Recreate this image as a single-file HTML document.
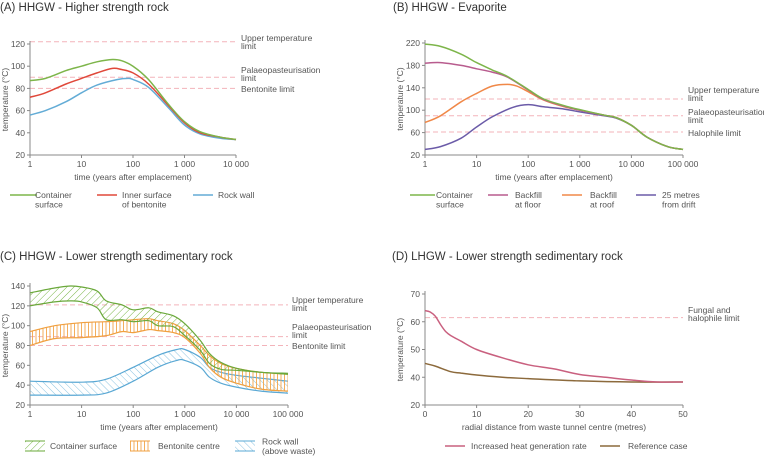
<!DOCTYPE html>
<html><head><meta charset="utf-8"><style>
html,body{margin:0;padding:0;background:#fff;}
svg{display:block;font-family:"Liberation Sans",sans-serif;}
</style></head><body>
<svg id="c" width="764" height="457" viewBox="0 0 764 457">
<defs>
<pattern id="hg" width="5" height="5" patternUnits="userSpaceOnUse" patternTransform="rotate(45)"><line x1="0" y1="0" x2="0" y2="5" stroke="#7ab648" stroke-width="1"/></pattern>
<pattern id="ho" width="3.5" height="5" patternUnits="userSpaceOnUse"><line x1="1" y1="0" x2="1" y2="5" stroke="#f2a54a" stroke-width="0.9"/></pattern>
<pattern id="hb" width="5" height="5" patternUnits="userSpaceOnUse" patternTransform="rotate(-45)"><line x1="0" y1="0" x2="0" y2="5" stroke="#7fbede" stroke-width="0.9"/></pattern>
</defs>
</svg>
<script>
// ---- Panel A data ----
const aX=[1,2,5,10,20,40,60,100,200,500,1000,2000,5000,10000];
const aContainer=[87,89,96,100,104,106,105,100,88,65,50,41,36,34];
const aInner=[72,76,84,89,94,98,97,94,84,64,49,40,36,34];
const aRockX=[1,2,5,10,20,50,80,100,200,500,1000,2000,5000,10000];
const aRock=[56,60,68,76,83,88,89,88,81,62,47,39,35,34];
const aLimits=[122,90,80];
// ---- Panel B data ----
const bX=[1,2,5,10,20,40,100,200,500,1000,3000,5000,10000,20000,50000,100000];
const bContainer=[218,214,200,185,172,160,137,120,108,101,91,87,73,52,35,30];
const bFloor=[184,185,180,174,168,159,136,119,107,100,91,87,73,52,35,30];
const bRoofX=[1,2,5,10,20,40,60,100,200,500,1000,3000,5000,10000,20000,50000,100000];
const bRoof=[78,90,115,130,143,146,143,133,118,106,100,91,87,73,52,35,30];
const bDriftX=[1,2,5,10,20,50,100,200,500,1000,3000,5000,10000,20000,50000,100000];
const bDrift=[30,35,50,70,88,105,110,106,102,97,90,86,73,52,35,30];
const bLimits=[120,90,61];
// ---- Panel C data ----
const cGX=[1,3,6,10,20,30,60,100,200,300,600,1000,2000,3000,5000,10000,30000,100000];
const cGreenHi=[133,138,140,139,135,125,121,116,118,114,110,102,85,72,63,57,53,52];
const cGreenLo=[120,124,125,124,118,106,106,104,105,100,99,90,75,62,56,55,53,51];
const cOX=[1,3,10,30,60,100,200,300,600,1000,2000,3000,5000,10000,30000,100000];
const cOrangeHi=[94,100,103,104,105,106,107,105,102,95,80,70,62,57,53,51];
const cOrangeLo=[80,87,88,90,94,93,96,95,93,88,72,58,48,42,36,34];
const cBX=[1,10,30,100,300,700,1000,2000,3000,5000,10000,30000,100000];
const cBlueHi=[44,43,46,58,70,76,76,68,58,53,50,47,44];
const cBlueLo=[30,30,32,44,58,65,65,58,48,42,38,34,32];
const cLimits=[121,89,80];
// ---- Panel D data ----
const dPX=[0,1,2,3,4,5,7,10,15,20,25,30,35,40,45,50];
const dPink=[64,63.5,62,59,56.5,55,53,50,47,44.5,43,41,40,39,38.3,38.3];
const dRX=[0,2,5,7,10,15,20,30,40,50];
const dRef=[45,44,42,41.5,40.8,40,39.5,38.7,38.3,38.3];
const dLimits=[61.5];
const dYTicks=[30,40,50,60,70];
const dYLabels=['20','40','50','60','70'];

const svg=document.getElementById('c');
const NS='http://www.w3.org/2000/svg';
function el(tag,attrs,parent){const e=document.createElementNS(NS,tag);for(const k in attrs)e.setAttribute(k,attrs[k]);(parent||svg).appendChild(e);return e;}
function txt(x,y,s,size,anchor,fill,parent){const t=el('text',{x:x,y:y,'font-size':size,'text-anchor':anchor||'start',fill:fill||'#444'},parent);t.textContent=s;return t;}
function smooth(pts){let d='M'+pts[0][0].toFixed(1)+','+pts[0][1].toFixed(1);
 for(let i=0;i<pts.length-1;i++){const p0=pts[i-1]||pts[i],p1=pts[i],p2=pts[i+1],p3=pts[i+2]||p2;
  const c1=[p1[0]+(p2[0]-p0[0])/6,p1[1]+(p2[1]-p0[1])/6],c2=[p2[0]-(p3[0]-p1[0])/6,p2[1]-(p3[1]-p1[1])/6];
  d+='C'+c1[0].toFixed(1)+','+c1[1].toFixed(1)+' '+c2[0].toFixed(1)+','+c2[1].toFixed(1)+' '+p2[0].toFixed(1)+','+p2[1].toFixed(1);}
 return d;}
function logScale(x0,x1,dec){return v=>x0+(x1-x0)*Math.log10(v)/dec;}
function linScale(a,b,p0,p1){return v=>p0+(v-a)*(p1-p0)/(b-a);}

function axes(g,xs,ys,xl,xr,yt,yb,xticks,xlabels,yticks,xtitle,ylabels){
 el('line',{x1:xl,y1:yt-3,x2:xl,y2:yb,stroke:'#888','stroke-width':1},g);
 el('line',{x1:xl,y1:yb,x2:xr,y2:yb,stroke:'#888','stroke-width':1},g);
 yticks.forEach((v,i)=>{const y=ys(v);el('line',{x1:xl-3,y1:y,x2:xl,y2:y,stroke:'#888'},g);txt(xl-5,y+3,ylabels?ylabels[i]:String(v),8.5,'end','#555',g);});
 xticks.forEach((v,i)=>{const x=xs(v);el('line',{x1:x,y1:yb,x2:x,y2:yb+3,stroke:'#888'},g);txt(x,yb+12,xlabels[i],8.5,'middle','#555',g);});
 txt((xl+xr)/2,yb+25,xtitle,8.5,'middle','#555',g);
 const t=txt(0,0,'temperature (°C)',8.5,'middle','#555',g);t.setAttribute('transform','translate('+(xl-22)+','+((yt+yb)/2)+') rotate(-90)');
}
function limits(g,ys,xl,xr,vals){vals.forEach(v=>{const l=el('line',{x1:xl,y1:ys(v),x2:xr,y2:ys(v),stroke:'#f3b3ba','stroke-width':1,'stroke-dasharray':'5,3'},g);
 
 });}
function series(g,xs,ys,X,Y,color,name){const p=el('path',{d:smooth(X.map((x,i)=>[xs(x),ys(Y[i])])),fill:'none',stroke:color,'stroke-width':1.5},g);
 
 }
function band(g,xs,ys,X,H,L,color,pat,name){const up=X.map((x,i)=>[xs(x),ys(H[i])]),lo=X.map((x,i)=>[xs(x),ys(L[i])]);
 const loRev=lo.slice().reverse();
 const d=smooth(up)+'L'+smooth(loRev).slice(1)+'Z';
 const a=el('path',{d:d,fill:'url(#'+pat+')',stroke:'none'},g);
 
 
 el('path',{d:smooth(up),fill:'none',stroke:color,'stroke-width':1.2},g);
 el('path',{d:smooth(lo),fill:'none',stroke:color,'stroke-width':1.2},g);}
function legLine(g,x1,x2,y,color,lines,tx){el('line',{x1:x1,y1:y,x2:x2,y2:y,stroke:color,'stroke-width':1.5},g);lines.forEach((s,i)=>txt(tx,y+3+i*9.5,s,8.5,'start','#555',g));}
function legBox(g,x,y,color,pat,lines,tx){el('rect',{x:x,y:y-5,width:20,height:10,fill:'url(#'+pat+')'},g);el('line',{x1:x,y1:y-5,x2:x+20,y2:y-5,stroke:color},g);el('line',{x1:x,y1:y+5,x2:x+20,y2:y+5,stroke:color},g);
 lines.forEach((s,i)=>txt(tx,y+3-(lines.length-1)*4.5+i*9.5,s,8.5,'start','#555',g));}

// Panel A
(function(){const g=el('g',{});
 txt(0,11,'(A) HHGW - Higher strength rock',11.5,'start','#333',g);
 const xs=logScale(30,236,4),ys=linScale(20,120,155,44);
 limits(g,ys,30,236,aLimits);
 axes(g,xs,ys,30,236,44,155,[1,10,100,1000,10000],['1','10','100','1 000','10 000'],[20,40,60,80,100,120],'time (years after emplacement)');
 series(g,xs,ys,aRockX,aRock,'#63acd6','rock-wall-line');
 series(g,xs,ys,aX,aInner,'#e0483a','inner-bentonite-line');
 series(g,xs,ys,aX,aContainer,'#7db54a','container-surface-line');
 [['Upper temperature','limit',41],['Palaeopasteurisation','limit',73]].forEach(a=>{txt(241,a[2],a[0],8.5,'start','#555',g);txt(241,a[2]+8,a[1],8.5,'start','#555',g);});
 txt(241,92,'Bentonite limit',8.5,'start','#555',g);
 legLine(g,10,37,195,'#7db54a',['Container','surface'],35);
 legLine(g,97,117,195,'#e0483a',['Inner surface','of bentonite'],122);
 legLine(g,193,213,195,'#63acd6',['Rock wall'],218);
})();
// Panel B
(function(){const g=el('g',{});
 txt(393,11,'(B)  HHGW - Evaporite',11.5,'start','#333',g);
 const xs=logScale(425,683,5),ys=linScale(20,220,155,43);
 limits(g,ys,425,683,bLimits);
 axes(g,xs,ys,425,683,43,155,[1,10,100,1000,10000,100000],['1','10','100','1 000','10 000','100 000'],[20,60,100,140,180,220],'time (years after emplacement)');
 series(g,xs,ys,bDriftX,bDrift,'#6b5ba8','drift-25m-line');
 series(g,xs,ys,bRoofX,bRoof,'#f08848','backfill-roof-line');
 series(g,xs,ys,bX,bFloor,'#b85c8e','backfill-floor-line');
 series(g,xs,ys,bX,bContainer,'#7db54a','container-surface-line');
 [['Upper temperature','limit',93],['Palaeopasteurisation','limit',115]].forEach(a=>{txt(688,a[2],a[0],8.5,'start','#555',g);txt(688,a[2]+8,a[1],8.5,'start','#555',g);});
 txt(688,136,'Halophile limit',8.5,'start','#555',g);
 legLine(g,410,435,195,'#7db54a',['Container','surface'],436);
 legLine(g,488,508,195,'#b85c8e',['Backfill','at floor'],515);
 legLine(g,562,582,195,'#f08848',['Backfill','at roof'],590);
 legLine(g,636,656,195,'#6b5ba8',['25 metres','from drift'],662);
})();
// Panel C
(function(){const g=el('g',{});
 txt(0,260,'(C) HHGW - Lower strength sedimentary rock',11.5,'start','#333',g);
 const xs=logScale(30,288,5),ys=linScale(20,140,405,286);
 limits(g,ys,30,288,cLimits);
 axes(g,xs,ys,30,288,286,405,[1,10,100,1000,10000,100000],['1','10','100','1 000','10 000','100 000'],[20,40,60,80,100,120,140],'time (years after emplacement)');
 band(g,xs,ys,cBX,cBlueHi,cBlueLo,'#5aa8d4','hb','rock-wall');
 band(g,xs,ys,cOX,cOrangeHi,cOrangeLo,'#f0a040','ho','bentonite-centre');
 band(g,xs,ys,cGX,cGreenHi,cGreenLo,'#6aa83a','hg','container-surface');
 [['Upper temperature','limit',303],['Palaeopasteurisation','limit',330]].forEach(a=>{txt(292,a[2],a[0],8.5,'start','#555',g);txt(292,a[2]+8,a[1],8.5,'start','#555',g);});
 txt(292,349,'Bentonite limit',8.5,'start','#555',g);
 legBox(g,25,446,'#6aa83a','hg',['Container surface'],50);
 legBox(g,130,446,'#f0a040','ho',['Bentonite centre'],158);
 legBox(g,235,446,'#5aa8d4','hb',['Rock wall','(above waste)'],262);
})();
// Panel D
(function(){const g=el('g',{});
 txt(392,260,'(D)  LHGW - Lower strength sedimentary rock',11.5,'start','#333',g);
 const xs=linScale(0,50,425,683),ys=linScale(30,70,405,294);
 limits(g,ys,425,683,dLimits);
 axes(g,xs,ys,425,683,294,405,[0,10,20,30,40,50],['0','10','20','30','40','50'],dYTicks,'radial distance from waste tunnel centre (metres)',dYLabels);
 series(g,xs,ys,dRX,dRef,'#8c6a3c','reference-case-line');
 series(g,xs,ys,dPX,dPink,'#c9607f','increased-heat-line');
 txt(688,313,'Fungal and',8.5,'start','#555',g);txt(688,321,'halophile limit',8.5,'start','#555',g);
 legLine(g,445,465,446,'#c9607f',['Increased heat generation rate'],471);
 legLine(g,600,620,446,'#8c6a3c',['Reference case'],628);
})();
</script>
</body></html>
